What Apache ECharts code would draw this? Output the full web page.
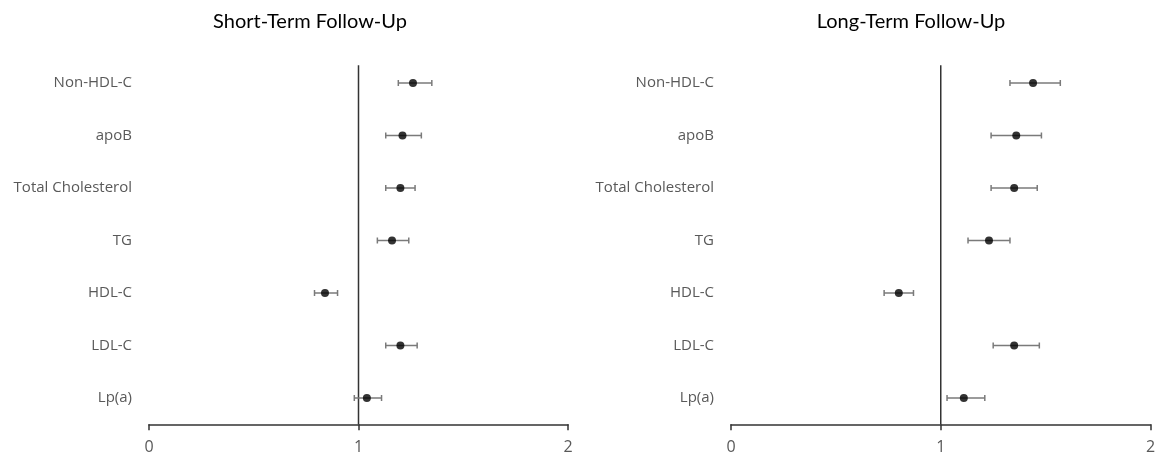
<!DOCTYPE html>
<html>
<head>
<meta charset="utf-8">
<script src="https://cdn.jsdelivr.net/npm/echarts@6/dist/echarts.min.js"></script>
<style>html,body{margin:0;padding:0;background:#fff;}#c{width:1167px;height:458px;}</style>
</head>
<body>
<div id="c"></div>
<script>
// Categories, top to bottom
const categories = ['Non-HDL-C', 'apoB', 'Total Cholesterol', 'TG', 'HDL-C', 'LDL-C', 'Lp(a)'];
const xTicks = [0, 1, 2];
const titles = ['Short-Term Follow-Up', 'Long-Term Follow-Up'];

// Short-term follow-up: point estimate, lower CI, upper CI
const shortEst = [1.26, 1.21, 1.20, 1.16, 0.84, 1.20, 1.04];
const shortLow = [1.19, 1.13, 1.13, 1.09, 0.79, 1.13, 0.98];
const shortHigh = [1.35, 1.30, 1.27, 1.24, 0.90, 1.28, 1.11];

// Long-term follow-up
const longEst = [1.44, 1.36, 1.35, 1.23, 0.80, 1.35, 1.11];
const longLow = [1.33, 1.24, 1.24, 1.13, 0.73, 1.25, 1.03];
const longHigh = [1.57, 1.48, 1.46, 1.33, 0.87, 1.47, 1.21];

// Reference line at x = 1 (drawn from bottom of plot to near top)
const refX = 1;
const refSpan = [0, 0.977];

const FONT = 'Open Sans';
const TFONT = 'Lato';
const TXT = '#595959';

function buildPanel(idx, est, low, high) {
  const scatterData = est.map((v, i) => [v, i]);
  const barData = low.map((l, i) => [i, l, high[i]]);
  return {
    series: [
      {
        type: 'line',
        xAxisIndex: idx,
        yAxisIndex: idx * 2 + 1,
        data: refSpan.map(y => [refX, y]),
        symbol: 'none',
        lineStyle: { color: '#333', width: 1.5 },
        silent: true,
        z: 1
      },
      {
        type: 'custom',
        xAxisIndex: idx,
        yAxisIndex: idx * 2,
        data: barData,
        encode: { x: [1, 2], y: 0 },
        renderItem: function (params, api) {
          const c = api.value(0);
          const p1 = api.coord([api.value(1), c]);
          const p2 = api.coord([api.value(2), c]);
          const h = 3;
          const st = { stroke: '#7a7a7a', lineWidth: 1.5 };
          return {
            type: 'group',
            children: [
              { type: 'line', shape: { x1: p1[0], y1: p1[1], x2: p2[0], y2: p2[1] }, style: st },
              { type: 'line', shape: { x1: p1[0], y1: p1[1] - h, x2: p1[0], y2: p1[1] + h }, style: st },
              { type: 'line', shape: { x1: p2[0], y1: p2[1] - h, x2: p2[0], y2: p2[1] + h }, style: st }
            ]
          };
        },
        z: 2
      },
      {
        type: 'scatter',
        xAxisIndex: idx,
        yAxisIndex: idx * 2,
        data: scatterData,
        symbol: 'circle',
        symbolSize: 8,
        itemStyle: { color: '#000' },
        z: 3
      }
    ]
  };
}

const p1 = buildPanel(0, shortEst, shortLow, shortHigh);
const p2 = buildPanel(1, longEst, longLow, longHigh);

function xAxisCfg(gi) {
  return {
    type: 'value', gridIndex: gi, min: xTicks[0], max: xTicks[xTicks.length - 1], interval: 1,
    axisLine: { show: true, lineStyle: { color: '#333', width: 1.5 } },
    axisTick: { show: true, length: 6, lineStyle: { color: '#333', width: 1.5 } },
    splitLine: { show: false },
    axisLabel: { color: TXT, fontFamily: FONT, fontSize: 16, margin: 15 }
  };
}
function yCatCfg(gi) {
  return {
    type: 'category', gridIndex: gi, data: categories, inverse: true,
    axisLine: { show: false }, axisTick: { show: false }, splitLine: { show: false },
    axisLabel: { color: TXT, fontFamily: FONT, fontSize: 15, margin: 17, padding: [2, 0, 0, 0] }
  };
}
function yRefCfg(gi) {
  return { type: 'value', gridIndex: gi, min: 0, max: 1, show: false, splitLine: { show: false } };
}

const option = {
  animation: false,
  backgroundColor: '#fff',
  title: [
    { text: titles[0], left: 310, top: 12, textAlign: 'center', padding: 0,
      textStyle: { fontFamily: TFONT, fontSize: 20, fontWeight: 'normal', color: '#000' } },
    { text: titles[1], left: 911, top: 12, textAlign: 'center', padding: 0,
      textStyle: { fontFamily: TFONT, fontSize: 20, fontWeight: 'normal', color: '#000' } }
  ],
  grid: [
    { left: 149, right: 599, top: 56.75, bottom: 33.75 },
    { left: 731, right: 16.5, top: 56.75, bottom: 33.75 }
  ],
  xAxis: [xAxisCfg(0), xAxisCfg(1)],
  yAxis: [yCatCfg(0), yRefCfg(0), yCatCfg(1), yRefCfg(1)],
  series: p1.series.concat(p2.series)
};

const chart = echarts.init(document.getElementById('c'), null, { renderer: 'canvas' });
chart.setOption(option);
</script>
</body>
</html>
